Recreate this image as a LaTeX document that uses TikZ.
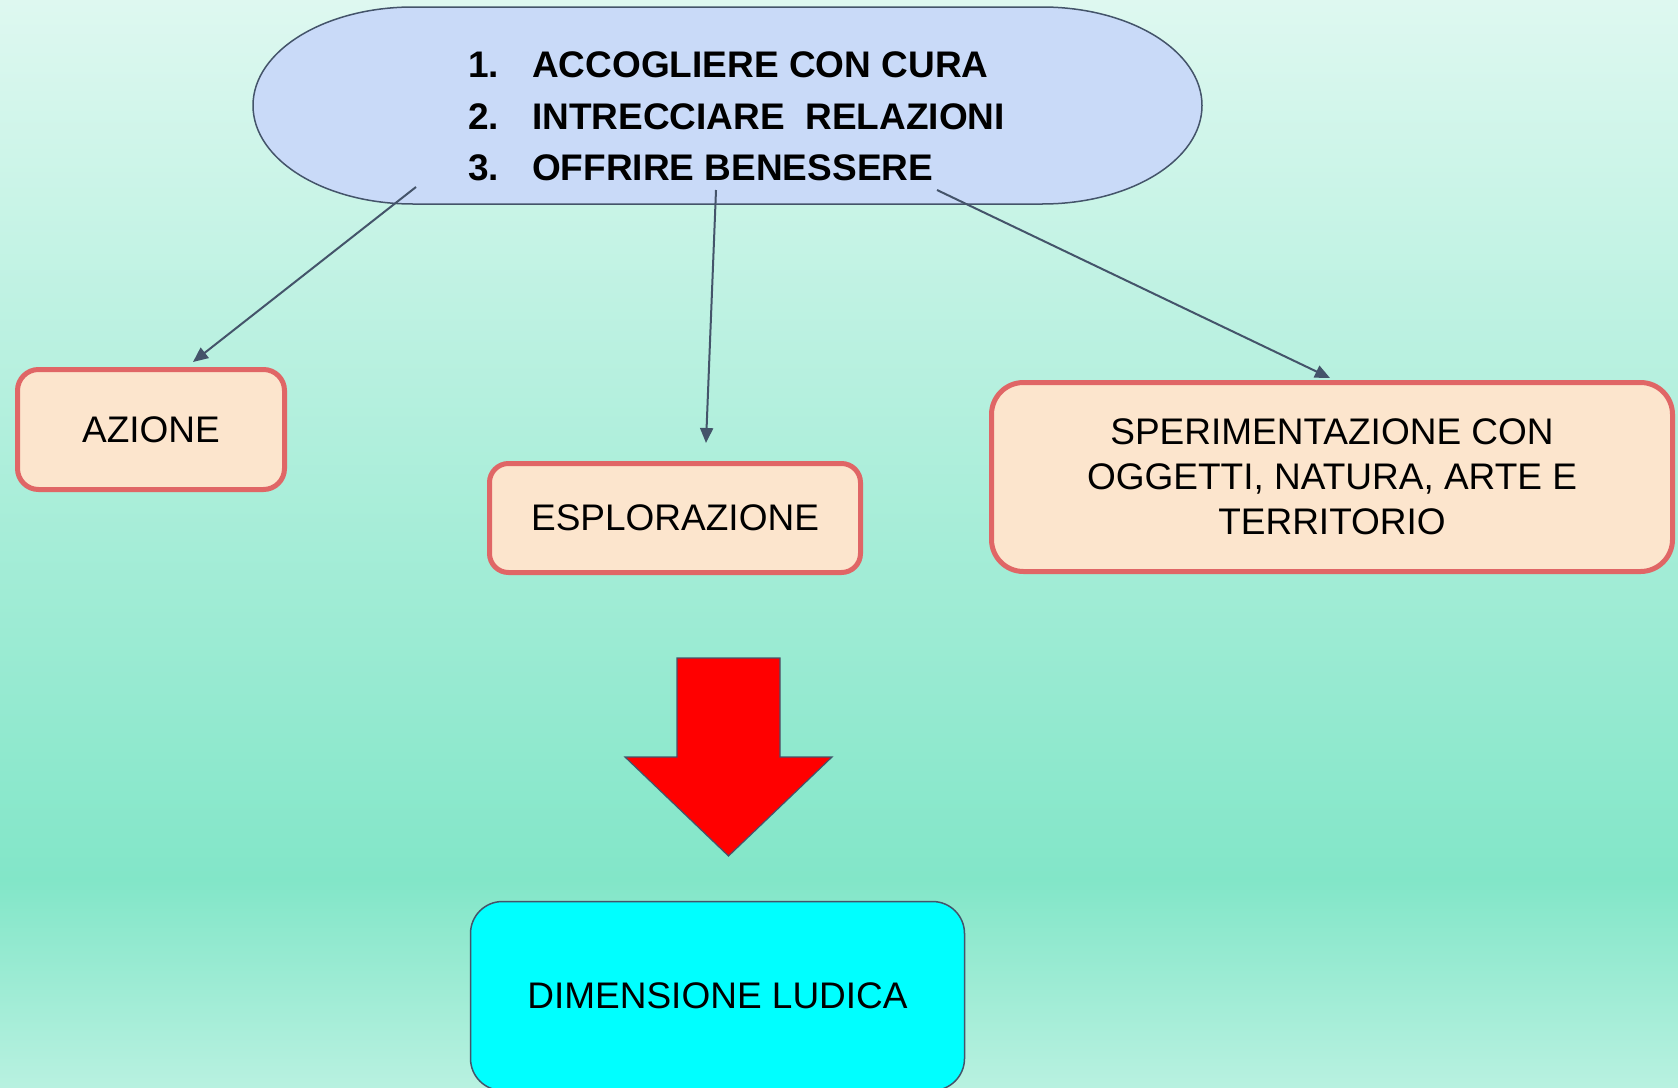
\documentclass[tikz,border=0pt]{standalone}
\usepackage{fontspec}
\setmainfont{Liberation Sans}
\usetikzlibrary{arrows.meta,calc}
\definecolor{bgtop}{HTML}{DEF8F0}
\definecolor{bgmid}{HTML}{82E6C8}
\definecolor{bgbot}{HTML}{B8F1E0}
\definecolor{slate}{HTML}{44546A}
\definecolor{ovalfill}{HTML}{C9DAF8}
\definecolor{pinkfill}{HTML}{FCE5CD}
\definecolor{pinkline}{HTML}{E06666}
\definecolor{ludicafill}{HTML}{00FFFF}
\newcommand{\lowtext}[1]{\raisebox{-2pt}{#1}}
\begin{document}
\begin{tikzpicture}[x=1pt,y=-1pt,
  txt/.style={font=\fontsize{37}{45}\selectfont, text=black},
  boldtxt/.style={font=\bfseries\fontsize{37}{45}\selectfont, text=black, inner sep=0pt, anchor=base west},
  pinkbox/.style={draw=pinkline, line width=5pt, fill=pinkfill, rounded corners=#1, inner sep=0pt, txt, align=center},
  ludicabox/.style={draw=slate, line width=1.5pt, fill=ludicafill, rounded corners=32pt, inner sep=0pt, txt},
  conn/.style={draw=slate, line width=2pt, -{Triangle[length=15pt,width=13pt]}},
  bigarrow/.style={draw=slate, line width=1.2pt, fill=red, line join=miter}
]
\useasboundingbox (0,0) rectangle (1678,1087);
% background
\shade[top color=bgtop, bottom color=bgmid] (0,0) rectangle (1678,881);
\shade[top color=bgmid, bottom color=bgbot] (0,880) rectangle (1678,1087);

% top oval
\draw[draw=slate, line width=1.5pt, fill=ovalfill]
  (413,7) -- (1042,7)
  arc[start angle=90, end angle=-90, x radius=160pt, y radius=98.5pt]
  -- (413,204)
  arc[start angle=-90, end angle=-270, x radius=160pt, y radius=98.5pt]
  -- cycle;
\node[boldtxt] (obj1) at (468,77.5) {\makebox[64pt][l]{1.}ACCOGLIERE CON CURA};
\node[boldtxt] (obj2) at (468,129) {\makebox[64pt][l]{2.}INTRECCIARE\ \ RELAZIONI};
\node[boldtxt] (obj3) at (468,180) {\makebox[64pt][l]{3.}OFFRIRE BENESSERE};

% boxes
\node[pinkbox=21pt, minimum width=267pt, minimum height=120pt] (azione) at (151,429.5) {\lowtext{AZIONE}};
\node[pinkbox=19pt, minimum width=371pt, minimum height=109pt] (esplorazione) at (675,518) {\lowtext{ESPLORAZIONE}};
\node[pinkbox=32pt, minimum width=681pt, minimum height=189pt] (sperim) at (1332,477)
  {SPERIMENTAZIONE CON\\OGGETTI, NATURA, ARTE E\\TERRITORIO};
\node[ludicabox, minimum width=494pt, minimum height=189pt] (ludica) at (717.5,996) {\lowtext{DIMENSIONE LUDICA}};

% connector end points
\coordinate (s1) at (416,187);
\coordinate (s2) at (716,190);
\coordinate (s3) at (937,190);
\coordinate (e1) at (193,362);
\coordinate (e2) at (706,443);
\coordinate (e3) at (1330,378);
\draw[conn] (s1) -- (e1);
\draw[conn] (s2) -- (e2);
\draw[conn] (s3) -- (e3);

% big red arrow
\draw[bigarrow] (677,658) -- (780,658) -- (780,757) -- (832,757) -- (728.5,856)
  -- (625,757) -- (677,757) -- cycle;
\end{tikzpicture}
\end{document}
